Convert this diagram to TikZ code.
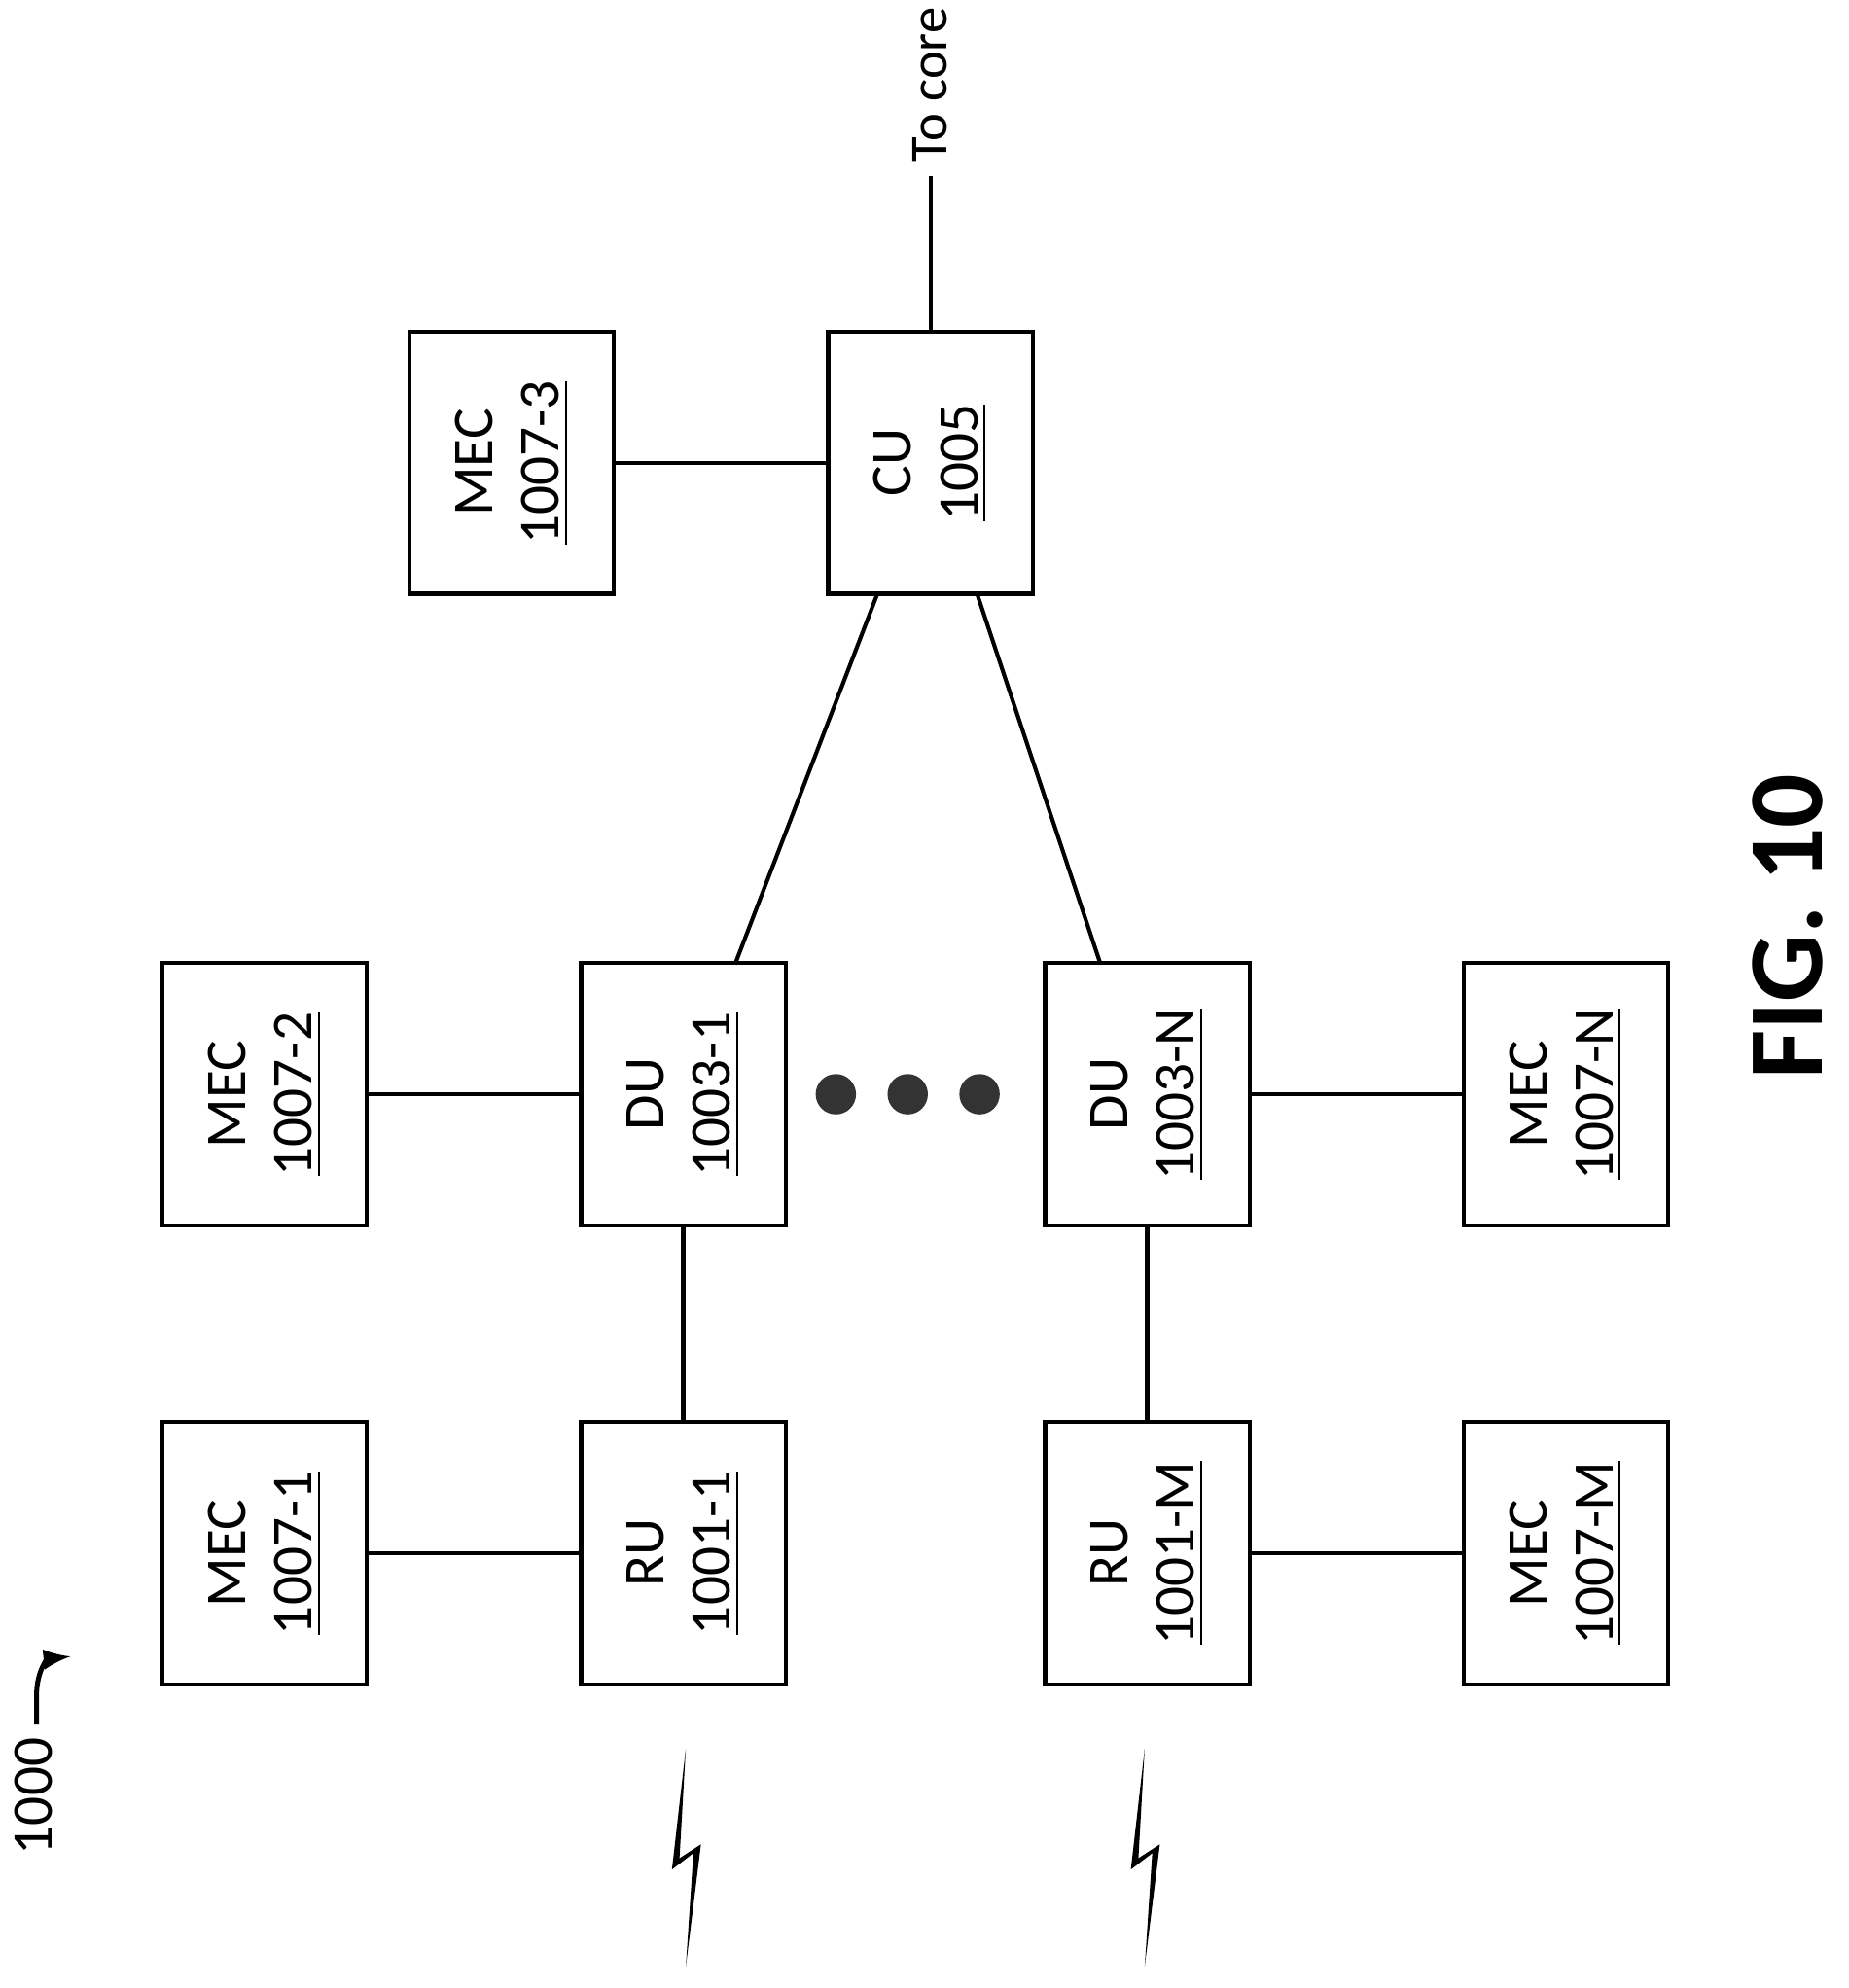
\documentclass[tikz,border=0pt]{standalone}
\usepackage{fontspec}
\setmainfont{Carlito}
\usetikzlibrary{positioning}
\tikzset{
  unit/.style={draw, line width=0.9pt, minimum width=2.08cm, minimum height=1.62cm, rotate=90, align=center, font=\fontsize{13}{15}\selectfont},
  link/.style={line width=0.9pt},
  bolt/.style={fill=black, draw=black, line width=0.4pt}
}
\begin{document}
\begin{tikzpicture}[x=0.01cm, y=-0.01cm]
\useasboundingbox (0,0) rectangle (1466,1577);

\node [unit] (mec3) at (406, 367) {MEC\\\underline{1007-3}};
\node [unit] (cu) at (738, 367) {CU\\\underline{1005}};
\node [unit] (mec2) at (210, 868) {MEC\\\underline{1007-2}};
\node [unit] (du1) at (542, 868) {DU\\\underline{1003-1}};
\node [unit] (duN) at (910, 868) {DU\\\underline{1003-N}};
\node [unit] (mecN) at (1242, 868) {MEC\\\underline{1007-N}};
\node [unit] (mec1) at (210, 1232) {MEC\\\underline{1007-1}};
\node [unit] (ru1) at (542, 1232) {RU\\\underline{1001-1}};
\node [unit] (ruM) at (910, 1232) {RU\\\underline{1001-M}};
\node [unit] (mecM) at (1242, 1232) {MEC\\\underline{1007-M}};

% dots between the DUs
\foreach \px/\nm in {663/d1, 720/d2, 777/d3}
  \node [circle, fill=black!80, inner sep=0pt, minimum size=0.32cm] (\nm) at (\px, 868) {};

\draw [link] (mec3) -- (cu);
\draw [link] (mec2) -- (du1);
\draw [link] (duN) -- (mecN);
\draw [link] (mec1) -- (ru1);
\draw [link] (ruM) -- (mecM);
\draw [link] (du1) -- (ru1);
\draw [link] (duN) -- (ruM);

\coordinate (cuL) at (696, 471);
\coordinate (cuR) at (775, 471);
\coordinate (du1T) at (583, 765);
\coordinate (duNT) at (873, 765);
\draw [link] (cuL) -- (du1T);
\draw [link] (cuR) -- (duNT);

% to core
\coordinate (core) at (738, 140);
\draw [link] (cu) -- (core);
\node [rotate=90, anchor=west, font=\fontsize{12}{14}\selectfont, inner sep=0pt] (coretxt) at (738, 130) {To core};

% radio links
\foreach \bx/\nm in {0/b1, 364/b2}
  \fill [black] (544+\bx, 1387) -- (533+\bx, 1483) -- (550+\bx, 1470) -- (544+\bx, 1560)
    -- (556+\bx, 1463) -- (539+\bx, 1474) -- cycle;

% figure number
\node [rotate=90, anchor=south, font=\fontsize{13}{15}\selectfont, inner sep=0pt] (ref) at (42, 1425) {1000};
\coordinate (refA) at (29, 1368);
\coordinate (refB) at (56, 1314);
\draw [line width=1.1pt, -latex] (refA) -- (29, 1345) .. controls (29, 1325) and (38, 1316) .. (refB);

\node [rotate=90, font=\bfseries\fontsize{24}{28}\selectfont] (fig) at (1418, 735) {FIG. 10};
\end{tikzpicture}
\end{document}
